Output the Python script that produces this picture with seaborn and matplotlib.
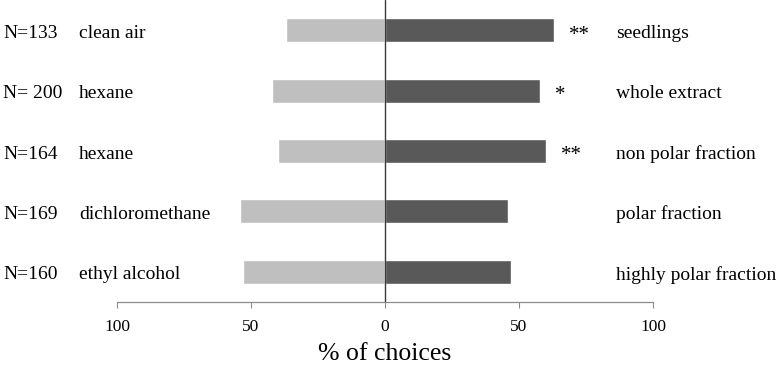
"""
Two-choice olfactometer results: % of choices for control vs treatment odour.
"""

import matplotlib
matplotlib.use('Agg')
import matplotlib.pyplot as plt
import matplotlib.transforms as mtransforms
import seaborn as sns
import pandas as pd

# data
sample_sizes = ['N=133', 'N= 200', 'N=164', 'N=169', 'N=160']
controls = ['clean air', 'hexane', 'hexane', 'dichloromethane', 'ethyl alcohol']
treatments = ['seedlings', 'whole extract', 'non polar fraction',
              'polar fraction', 'highly polar fraction']
control_pct = [37, 42, 40, 54, 53]
treatment_pct = [63, 58, 60, 46, 47]
significance = ['**', '*', '**', '', '']
tick_values = [-100, -50, 0, 50, 100]

sns.set_theme(style='white')
plt.rcParams['font.family'] = ['Liberation Serif', 'DejaVu Serif']
plt.rcParams['text.color'] = 'black'
plt.rcParams['axes.labelcolor'] = 'black'
plt.rcParams['xtick.color'] = 'black'

df = pd.DataFrame({
    'treatment': treatments,
    'control': controls,
    'left': [-v for v in control_pct],
    'right': treatment_pct,
})

fig = plt.figure(figsize=(7.81, 3.65), dpi=100)
ax = fig.add_axes([117 / 781, 1 - 302 / 365, 536 / 781, 302 / 365])

sns.barplot(data=df, x='left', y='treatment', orient='h', order=treatments,
            color='#bfbfbf', saturation=1, width=0.4, ax=ax)
sns.barplot(data=df, x='right', y='treatment', orient='h', order=treatments,
            color='#595959', saturation=1, width=0.4, ax=ax)

ax.axvline(0, color='#3a3a3a', lw=1, zorder=3)
ax.set_xlim(-100, 100)
ax.set_ylim(4.5, -0.5)

ax.set_yticks([])
ax.set_ylabel('')
ax.set_xticks(tick_values)
ax.set_xticklabels([str(abs(v)) for v in tick_values], fontsize=12.5)
ax.tick_params(axis='x', bottom=True, direction='out', length=4, width=0.8,
               color='#8c8c8c', labelcolor='black', pad=8)
ax.set_xlabel('% of choices', fontsize=18.5, labelpad=6)

for side in ['top', 'right', 'left']:
    ax.spines[side].set_visible(False)
ax.spines['bottom'].set_color('#8c8c8c')
ax.spines['bottom'].set_linewidth(0.9)

# row labels outside the axes: x in figure fraction, y in data units
trans = mtransforms.blended_transform_factory(fig.transFigure, ax.transData)
for i in range(len(treatments)):
    y = i + 0.05
    ax.text(3 / 781, y, sample_sizes[i], transform=trans, fontsize=14,
            ha='left', va='center', clip_on=False)
    ax.text(79 / 781, y, controls[i], transform=trans, fontsize=14,
            ha='left', va='center', clip_on=False)
    ax.text(616 / 781, y, treatments[i], transform=trans, fontsize=14,
            ha='left', va='center', clip_on=False)
    if significance[i]:
        ax.text(treatment_pct[i] + 5.5, i + 0.08, significance[i],
                fontsize=15, ha='left', va='center', clip_on=False)

fig.savefig('out.png', dpi=100)
